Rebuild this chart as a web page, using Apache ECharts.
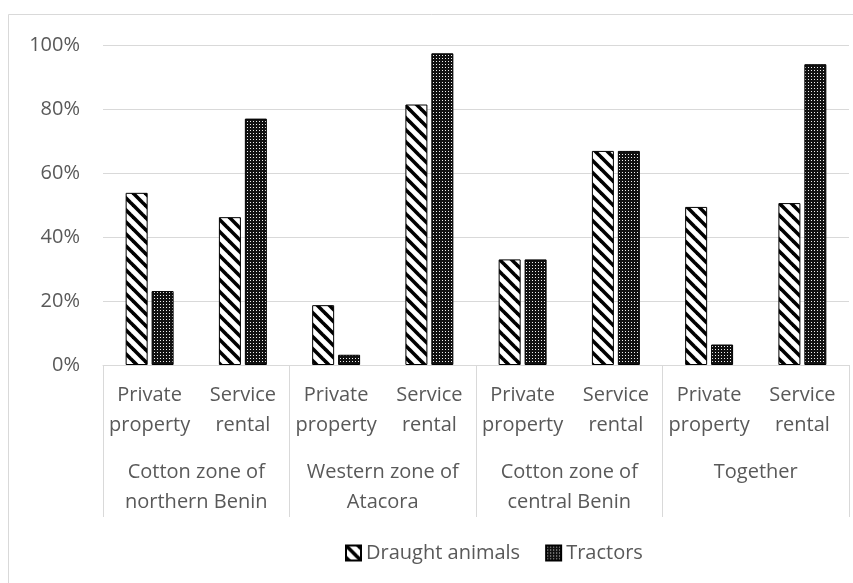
<!DOCTYPE html>
<html>
<head>
<meta charset="utf-8">
<script src="https://cdn.jsdelivr.net/npm/echarts@6/dist/echarts.min.js"></script>
<style>
  html, body { margin: 0; padding: 0; background: #fff; }
  #chart { width: 853px; height: 583px; }
</style>
</head>
<body>
<div id="chart"></div>
<script>
// Ownership mode per zone, share of farms (%)
const subCategories = ['Private\nproperty', 'Service\nrental', 'Private\nproperty', 'Service\nrental',
                       'Private\nproperty', 'Service\nrental', 'Private\nproperty', 'Service\nrental'];
const zones = ['Cotton zone of\nnorthern Benin', 'Western zone of\nAtacora',
               'Cotton zone of\ncentral Benin', 'Together'];
const draughtAnimals = [53.8, 46.2, 18.7, 81.4, 33.0, 66.9, 49.4, 50.6];
const tractors = [23.1, 77.0, 3.2, 97.4, 33.0, 66.9, 6.4, 94.0];
const seriesNames = ['Draught animals', 'Tractors'];

// Hatch fill: black diagonal stripes on white
function stripePattern() {
  const T = 12;
  const c = document.createElement('canvas');
  c.width = T; c.height = T;
  const g = c.getContext('2d');
  g.fillStyle = '#fff';
  g.fillRect(0, 0, T, T);
  g.strokeStyle = '#000';
  g.lineWidth = 3.6;
  for (let k = -1; k <= 1; k++) {
    g.beginPath();
    g.moveTo(-2, -2 + k * T);
    g.lineTo(T + 2, T + 2 + k * T);
    g.stroke();
  }
  return { image: c, repeat: 'repeat' };
}

// Dotted fill: small white dots on black
function dotPattern() {
  const c = document.createElement('canvas');
  c.width = 3; c.height = 3;
  const g = c.getContext('2d');
  g.fillStyle = '#111';
  g.fillRect(0, 0, 3, 3);
  g.fillStyle = '#f0f0f0';
  g.fillRect(1, 1, 1, 1);
  return { image: c, repeat: 'repeat' };
}

const textColor = '#595959';
const fontFamily = '"Open Sans", "Noto Sans", sans-serif';
const lineColor = '#d9d9d9';

const chart = echarts.init(document.getElementById('chart'), null, { renderer: 'canvas' });

chart.setOption({
  animation: false,
  backgroundColor: '#fff',
  textStyle: { fontFamily: fontFamily },
  graphic: [{
    type: 'rect',
    shape: { x: 8.5, y: 14.5, width: 900, height: 700 },
    style: { fill: 'none', stroke: lineColor, lineWidth: 1 },
    silent: true,
    z: -10
  }],
  grid: { left: 103, right: 4, top: 45, bottom: 218, containLabel: false },
  legend: {
    data: seriesNames,
    left: 340,
    top: 537,
    itemWidth: 15,
    itemHeight: 15,
    itemGap: 25,
    icon: 'rect',
    textStyle: { color: textColor, fontSize: 20, fontFamily: fontFamily, lineHeight: 22 }
  },
  xAxis: [{
    type: 'category',
    data: subCategories,
    axisLine: { show: true, lineStyle: { color: lineColor, width: 1 } },
    axisTick: { show: false },
    axisLabel: {
      interval: 0, color: textColor, fontSize: 20, fontFamily: fontFamily,
      lineHeight: 30, margin: 15, verticalAlign: 'top'
    }
  }, {
    type: 'category',
    data: zones,
    position: 'bottom',
    axisLine: { show: false },
    axisTick: {
      show: true, interval: 0, length: 152,
      lineStyle: { color: lineColor, width: 1 }
    },
    axisLabel: {
      interval: 0, color: textColor, fontSize: 20, fontFamily: fontFamily,
      lineHeight: 30, margin: 92, verticalAlign: 'top'
    }
  }],
  yAxis: {
    type: 'value',
    min: 0, max: 100, interval: 20,
    axisLine: { show: false },
    axisTick: { show: false },
    splitLine: { lineStyle: { color: lineColor, width: 1 } },
    axisLabel: {
      formatter: '{value}%', color: textColor, fontSize: 20,
      fontFamily: fontFamily, margin: 23
    }
  },
  series: [{
    name: seriesNames[0],
    type: 'bar',
    xAxisIndex: 0,
    data: draughtAnimals,
    barWidth: 22,
    barGap: '18%',
    itemStyle: { color: stripePattern(), borderColor: '#000', borderWidth: 1 }
  }, {
    name: seriesNames[1],
    type: 'bar',
    xAxisIndex: 0,
    data: tractors,
    barWidth: 22,
    itemStyle: { color: dotPattern(), borderColor: '#000', borderWidth: 1 }
  }]
});
</script>
</body>
</html>
